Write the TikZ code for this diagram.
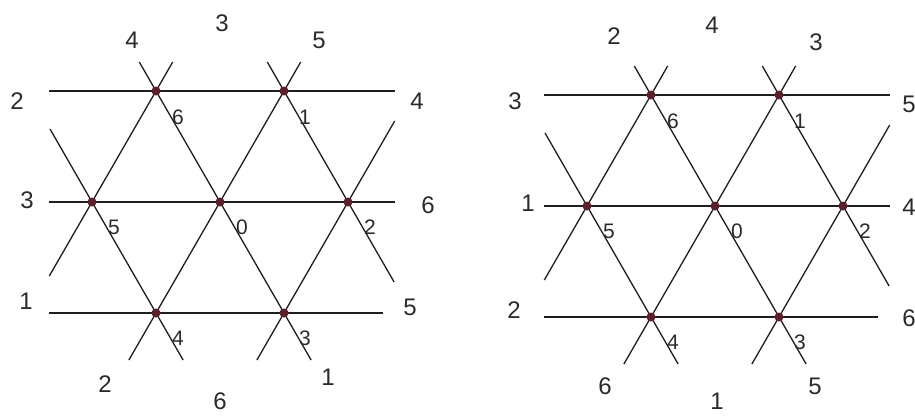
\documentclass[tikz,border=0pt]{standalone}
\usepackage{fontspec}
\setmainfont{Liberation Sans}
\usetikzlibrary{calc,backgrounds}
\definecolor{dotc}{HTML}{5E1F2A}
\definecolor{linec}{HTML}{1E1E1E}
\definecolor{txtc}{HTML}{2A2A2A}
\begin{document}
\begin{tikzpicture}[x=1pt,y=-1pt,
  gridline/.style={draw=linec, line width=1.3pt},
  vertex/.style={circle, fill=dotc, inner sep=0pt, minimum size=9pt},
  outerlbl/.style={font=\fontsize{24}{24}\selectfont, inner sep=0pt, text=txtc},
  innerlbl/.style={font=\fontsize{21}{21}\selectfont, inner sep=0pt, text=txtc}]
\useasboundingbox (0,0) rectangle (915,415);
\clip (0,0) rectangle (915,415);
\begin{scope}[on background layer]
 \fill[white] (0,0) rectangle (915,415);
\end{scope}
\foreach \p/\dx/\dy in {L/0/0, R/495/4}{
 \begin{scope}[shift={(\dx,\dy)}]
  % lattice points
  \node[vertex] (\p-d6) at (156,91) {};
  \node[vertex] (\p-d1) at (284,91) {};
  \node[vertex] (\p-d5) at (92,202) {};
  \node[vertex] (\p-d0) at (220,202) {};
  \node[vertex] (\p-d2) at (348,202) {};
  \node[vertex] (\p-d4) at (156,313) {};
  \node[vertex] (\p-d3) at (284,313) {};
  % free line ends
  \coordinate (\p-h1a) at (49,91);   \coordinate (\p-h1b) at (395,91);
  \coordinate (\p-h2a) at (49,202);  \coordinate (\p-h2b) at (395,202);
  \coordinate (\p-h3a) at (49,313);  \coordinate (\p-h3b) at (383,313);
  \coordinate (\p-e1a) at (49.3,276);  \coordinate (\p-e1b) at (172.7,62);
  \coordinate (\p-e2a) at (50,129);    \coordinate (\p-e2b) at (183.1,360);
  \coordinate (\p-e3a) at (139.3,62);  \coordinate (\p-e3b) at (311.1,360);
  \coordinate (\p-e4a) at (128.9,360); \coordinate (\p-e4b) at (300.7,62);
  \coordinate (\p-e5a) at (267.3,62);  \coordinate (\p-e5b) at (394.1,282);
  \coordinate (\p-e6a) at (256.9,360); \coordinate (\p-e6b) at (394.7,121);
  \begin{scope}[on background layer]
   \draw[gridline] (\p-h1a) -- (\p-d6.center) -- (\p-d1.center) -- (\p-h1b);
   \draw[gridline] (\p-h2a) -- (\p-d5.center) -- (\p-d0.center) -- (\p-d2.center) -- (\p-h2b);
   \draw[gridline] (\p-h3a) -- (\p-d4.center) -- (\p-d3.center) -- (\p-h3b);
   \draw[gridline] (\p-e1a) -- (\p-d5.center) -- (\p-d6.center) -- (\p-e1b);
   \draw[gridline] (\p-e2a) -- (\p-d5.center) -- (\p-d4.center) -- (\p-e2b);
   \draw[gridline] (\p-e3a) -- (\p-d6.center) -- (\p-d0.center) -- (\p-d3.center) -- (\p-e3b);
   \draw[gridline] (\p-e4a) -- (\p-d4.center) -- (\p-d0.center) -- (\p-d1.center) -- (\p-e4b);
   \draw[gridline] (\p-e5a) -- (\p-d1.center) -- (\p-d2.center) -- (\p-e5b);
   \draw[gridline] (\p-e6a) -- (\p-d3.center) -- (\p-d2.center) -- (\p-e6b);
  \end{scope}
  % inner labels
  \node[innerlbl] (\p-l6) at ($(\p-d6)+(22,26)$) {6};
  \node[innerlbl] (\p-l1) at ($(\p-d1)+(21,26)$) {1};
  \node[innerlbl] (\p-l5) at ($(\p-d5)+(22,25)$) {5};
  \node[innerlbl] (\p-l0) at ($(\p-d0)+(22,25)$) {0};
  \node[innerlbl] (\p-l2) at ($(\p-d2)+(22,25)$) {2};
  \node[innerlbl] (\p-l4) at ($(\p-d4)+(22,25)$) {4};
  \node[innerlbl] (\p-l3) at ($(\p-d3)+(21,25)$) {3};
 \end{scope}
}
% outer labels, left figure
\node[outerlbl] (a1) at (132,40) {4};
\node[outerlbl] (a2) at (222,23) {3};
\node[outerlbl] (a3) at (319,40) {5};
\node[outerlbl] (a4) at (17,101) {2};
\node[outerlbl] (a5) at (417,101) {4};
\node[outerlbl] (a6) at (27,200) {3};
\node[outerlbl] (a7) at (428,205) {6};
\node[outerlbl] (a8) at (26,301) {1};
\node[outerlbl] (a9) at (410,307) {5};
\node[outerlbl] (a10) at (105,384) {2};
\node[outerlbl] (a11) at (220,401) {6};
\node[outerlbl] (a12) at (328,377) {1};
% outer labels, right figure
\node[outerlbl] (b1) at (614,36) {2};
\node[outerlbl] (b2) at (712,25) {4};
\node[outerlbl] (b3) at (816,42) {3};
\node[outerlbl] (b4) at (515,101) {3};
\node[outerlbl] (b5) at (909,104) {5};
\node[outerlbl] (b6) at (528,203) {1};
\node[outerlbl] (b7) at (909,207) {4};
\node[outerlbl] (b8) at (514,310) {2};
\node[outerlbl] (b9) at (909,318) {6};
\node[outerlbl] (b10) at (605,386) {6};
\node[outerlbl] (b11) at (717,401) {1};
\node[outerlbl] (b12) at (815,386) {5};
\end{tikzpicture}
\end{document}
